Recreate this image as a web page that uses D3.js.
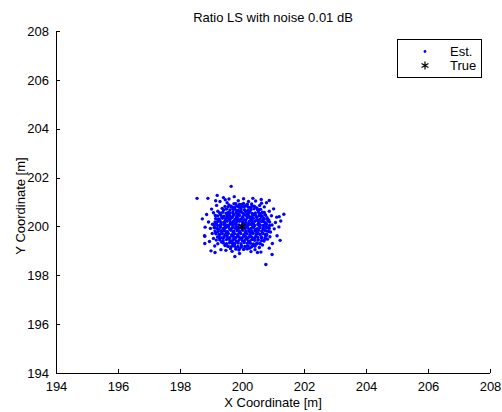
<!DOCTYPE html>
<html>
<head>
<meta charset="utf-8">
<script src="https://cdn.jsdelivr.net/npm/d3@7"></script>
<style>
  body { margin: 0; background: #fff; }
  text { font-family: "Liberation Sans", Arial, sans-serif; }
</style>
</head>
<body>
<div id="chart"></div>
<script>
// chart texts and ticks
var title = "Ratio LS with noise 0.01 dB";
var xLabel = "X Coordinate [m]";
var yLabel = "Y Coordinate [m]";
var xTicks = [194, 196, 198, 200, 202, 204, 206, 208];
var yTicks = [194, 196, 198, 200, 202, 204, 206, 208];
var legendNames = ["Est.", "True"];

// true position
var truePos = [[200, 200]];

// estimated positions [x, y]
var estCore = [
  [199.78,200.70],[199.88,200.66],[199.97,200.71],[200.08,200.68],[200.19,200.65],
  [199.62,200.55],[199.71,200.59],[199.82,200.54],[199.93,200.58],[200.02,200.55],[200.12,200.60],[200.23,200.56],[200.33,200.53],
  [199.52,200.45],[199.62,200.41],[199.73,200.46],[199.83,200.43],[199.92,200.45],[200.03,200.40],[200.13,200.46],[200.22,200.44],[200.33,200.41],[200.44,200.45],
  [199.47,200.33],[199.57,200.30],[199.66,200.34],[199.77,200.29],[199.87,200.33],[199.98,200.31],[200.07,200.28],[200.17,200.34],[200.28,200.30],[200.37,200.33],[200.48,200.29],
  [199.43,200.18],[199.52,200.21],[199.63,200.16],[199.72,200.20],[199.83,200.18],[199.92,200.21],[200.02,200.19],[200.12,200.16],[200.23,200.20],[200.32,200.18],[200.42,200.21],[200.53,200.19],
  [199.41,200.08],[199.51,200.05],[199.61,200.09],[199.70,200.04],[199.81,200.08],[199.90,200.06],[200.00,200.05],[200.10,200.09],[200.20,200.05],[200.30,200.08],[200.41,200.04],[200.51,200.08],[200.59,200.05],
  [199.40,199.92],[199.49,199.96],[199.60,199.91],[199.69,199.95],[199.79,199.92],[199.88,199.96],[199.98,199.94],[200.08,199.91],[200.18,199.95],[200.29,199.92],[200.38,199.96],[200.49,199.91],[200.58,199.95],
  [199.43,199.82],[199.53,199.79],[199.64,199.84],[199.73,199.80],[199.84,199.82],[199.93,199.79],[200.03,199.84],[200.14,199.81],[200.24,199.79],[200.33,199.82],[200.44,199.80],[200.54,199.84],
  [199.46,199.67],[199.56,199.71],[199.67,199.66],[199.76,199.70],[199.86,199.67],[199.96,199.71],[200.06,199.66],[200.16,199.70],[200.26,199.67],[200.36,199.71],[200.47,199.69],
  [199.52,199.57],[199.61,199.54],[199.72,199.59],[199.81,199.55],[199.91,199.57],[200.01,199.54],[200.11,199.59],[200.21,199.55],[200.31,199.57],[200.41,199.54],
  [199.61,199.42],[199.71,199.46],[199.81,199.41],[199.91,199.45],[200.01,199.42],[200.11,199.46],[200.21,199.41],[200.31,199.45],
  [199.77,199.30],[199.87,199.32],[199.97,199.29],[200.07,199.34],[200.17,199.31]
];
var estFill = [
  [199.83,200.62],[199.97,200.63],[200.13,200.61],[200.26,200.63],
  [199.58,200.50],[199.72,200.51],[199.88,200.49],[200.07,200.50],[200.18,200.52],[200.38,200.49],
  [199.53,200.38],[199.69,200.39],[199.82,200.37],[200.02,200.38],[200.17,200.39],[200.27,200.37],[200.48,200.38],
  [199.47,200.25],[199.61,200.26],[199.83,200.24],[199.93,200.25],[200.12,200.26],[200.32,200.24],[200.52,200.25],
  [199.44,200.12],[199.67,200.13],[199.77,200.11],[200.07,200.12],[200.22,200.13],[200.37,200.11],[200.55,200.12],
  [199.46,200.00],[199.56,200.01],[199.80,199.99],[200.04,200.00],[200.14,200.01],[200.35,199.99],[200.56,200.00],
  [199.43,199.88],[199.64,199.87],[199.87,199.88],[200.02,199.87],[200.23,199.88],[200.43,199.87],
  [199.50,199.75],[199.72,199.76],[199.92,199.74],[200.11,199.75],[200.31,199.76],[200.51,199.74],
  [199.52,199.62],[199.67,199.63],[199.86,199.61],[200.06,199.62],[200.26,199.63],[200.45,199.62],
  [199.57,199.50],[199.76,199.49],[199.96,199.51],[200.16,199.50],[200.36,199.49],
  [199.68,199.38],[199.87,199.37],[200.06,199.39],[200.24,199.38]
];
var estRing = [
  [199.80,200.93],[199.92,200.90],[200.05,200.94],[200.17,200.91],
  [199.55,200.80],[199.65,200.83],[199.76,200.79],[199.87,200.82],[199.98,200.80],[200.09,200.83],[200.20,200.79],[200.31,200.82],[200.42,200.80],
  [199.40,200.68],[199.50,200.71],[199.61,200.67],[199.71,200.70],[200.29,200.69],[200.39,200.72],[200.50,200.68],[200.60,200.70],
  [199.28,200.55],[199.38,200.58],[199.49,200.54],[199.56,200.57],[200.43,200.55],[200.53,200.58],[200.63,200.54],[200.72,200.57],
  [199.21,200.43],[199.32,200.46],[199.42,200.42],[200.55,200.45],[200.65,200.42],[200.76,200.46],
  [199.15,200.32],[199.26,200.29],[199.37,200.33],[200.59,200.30],[200.70,200.33],[200.81,200.29],
  [199.13,200.18],[199.23,200.21],[199.33,200.17],[200.63,200.20],[200.74,200.17],[200.85,200.21],
  [199.11,200.07],[199.21,200.04],[199.31,200.08],[200.69,200.05],[200.79,200.08],[200.89,200.04],
  [199.10,199.95],[199.20,199.92],[199.30,199.96],[200.68,199.93],[200.78,199.96],[200.88,199.92],
  [199.13,199.82],[199.23,199.79],[199.33,199.83],[200.64,199.80],[200.75,199.83],[200.86,199.79],
  [199.16,199.70],[199.26,199.67],[199.36,199.71],[200.57,199.68],[200.68,199.71],[200.80,199.67],
  [199.21,199.57],[199.32,199.54],[199.42,199.58],[200.51,199.55],[200.62,199.58],[200.74,199.54],
  [199.28,199.45],[199.39,199.42],[199.50,199.46],[200.41,199.43],[200.52,199.46],[200.63,199.42],[200.72,199.45],
  [199.40,199.32],[199.50,199.29],[199.60,199.33],[199.69,199.30],[200.27,199.31],[200.37,199.28],[200.48,199.32],[200.58,199.29],
  [199.55,199.19],[199.65,199.17],[199.76,199.20],[199.87,199.18],[199.98,199.21],[200.09,199.18],[200.20,199.20],[200.31,199.17],[200.42,199.19],
  [199.80,199.07],[199.92,199.09],[200.05,199.06],[200.17,199.08]
];
var estMid = [
  [199.45,200.82],[199.58,200.88],[199.66,200.79],[199.74,200.93],[199.83,200.84],[199.91,200.78],[199.99,200.90],[200.06,200.81],[200.15,200.87],[200.24,200.78],
  [200.31,200.92],[200.39,200.83],[200.48,200.76],[200.57,200.86],[200.63,200.95],[199.36,200.74],[199.52,200.97],[200.21,201.02],[199.88,201.05],[200.72,200.80],
  [199.22,200.62],[199.30,200.51],[199.14,200.45],[199.35,200.38],[199.25,200.31],[199.08,200.56],[199.41,200.67],[200.55,200.68],
  [200.66,200.58],[200.74,200.49],[200.62,200.41],[200.81,200.36],[200.70,200.29],[200.88,200.62],[200.58,200.52],[200.95,200.44],
  [199.28,200.22],[199.18,200.14],[199.05,200.09],[199.31,200.03],[199.12,199.96],[199.24,199.88],[198.98,199.92],
  [199.33,199.79],[199.15,199.74],[199.27,199.66],[199.04,199.71],[199.22,200.27],[199.36,199.70],[198.92,200.18],
  [200.68,200.21],[200.77,200.13],[200.89,200.18],[200.71,200.02],[200.83,199.95],[200.97,200.06],[200.69,199.88],
  [200.79,199.81],[200.92,199.77],[200.66,199.72],[200.75,199.66],[201.04,199.90],[200.86,200.27],[201.08,200.16],
  [199.26,199.55],[199.17,199.44],[199.34,199.36],[199.08,199.51],[199.22,199.29],[199.45,199.22],[199.39,199.52],[200.52,199.44],
  [200.63,199.53],[200.58,199.31],[200.71,199.40],[200.82,199.48],[200.66,199.24],[200.47,199.28],[200.90,199.58],[200.78,199.61],
  [199.55,199.18],[199.63,199.09],[199.72,199.21],[199.81,199.12],[199.90,199.03],[199.98,199.16],[200.07,199.08],[200.16,199.19],
  [200.25,199.11],[200.34,199.22],[200.42,199.05],[199.48,199.02],[200.56,199.14],[199.68,198.98],[200.29,198.97]
];
var estOuter = [
  [198.72,200.31],[198.81,199.97],[198.86,200.49],[198.79,199.62],[198.95,199.38],[199.02,200.71],[199.18,200.86],[199.29,201.02],
  [199.46,201.09],[200.05,201.13],[200.44,201.04],[200.79,200.97],[201.02,200.72],[201.12,200.38],[201.19,199.98],[201.13,199.62],
  [200.98,199.30],[200.88,199.11],[200.61,198.95],[199.92,198.89],[199.32,199.05],[199.12,199.20],[201.25,200.22],
  [199.15,201.05],[199.40,201.18],[199.58,201.12],[199.75,201.22],[200.35,201.15],[200.62,201.10],[200.88,201.06],
  [199.65,201.64],[198.55,201.15],[198.90,201.15],[199.20,201.27],[201.35,200.50],[201.20,200.40],[200.77,198.44],
  [198.80,199.60],[198.80,199.30],[199.00,199.00],[199.13,198.93],[201.23,199.43],[200.97,198.85],[199.77,198.77],[200.50,198.93]
];
var estPos = estCore.concat(estFill, estRing, estMid, estOuter);

// set the dimensions and margins of the graph
var margin = {top: 31, right: 12, bottom: 39, left: 56},
    width = 502 - margin.left - margin.right,
    height = 412 - margin.top - margin.bottom;

var x = d3.scaleLinear().domain([194, 208]).range([0, width]);
var y = d3.scaleLinear().domain([194, 208]).range([height, 0]);

var svg = d3.select("#chart").append("svg")
    .attr("width", 502)
    .attr("height", 412)
  .append("g")
    .attr("transform", "translate(" + margin.left + "," + margin.top + ")");

// estimated points
svg.selectAll(".est")
    .data(estPos)
  .enter().append("circle")
    .attr("class", "est")
    .attr("cx", function(d) { return x(d[0]); })
    .attr("cy", function(d) { return y(d[1]); })
    .attr("r", 1.7)
    .attr("fill", "#0000ff");

// true point
var star = d3.symbol().type(d3.symbolAsterisk).size(44);
svg.selectAll(".true")
    .data(truePos)
  .enter().append("path")
    .attr("class", "true")
    .attr("d", star)
    .attr("transform", function(d) { return "translate(" + x(d[0]) + "," + y(d[1]) + ")"; })
    .attr("fill", "none")
    .attr("stroke", "#000")
    .attr("stroke-width", 1.4);

// x axis, ticks pointing inward
var xAxis = svg.append("g")
    .attr("transform", "translate(0," + height + ")")
    .call(d3.axisBottom(x).tickValues(xTicks).tickSize(-4).tickPadding(9).tickFormat(d3.format("d")));

// y axis
var yAxis = svg.append("g")
    .call(d3.axisLeft(y).tickValues(yTicks).tickSize(-4).tickPadding(7).tickFormat(d3.format("d")));

[xAxis, yAxis].forEach(function(a) {
  a.selectAll("path, line").attr("stroke", "#000").attr("shape-rendering", "crispEdges");
  a.select(".domain").attr("d", a === xAxis ? "M0,0H" + width : "M0,0V" + height);
  a.selectAll("text").attr("font-size", 13).attr("fill", "#000")
    .attr("font-family", "'Liberation Sans', Arial, sans-serif");
});

// title and labels
svg.append("text")
    .attr("x", width / 2)
    .attr("y", -9)
    .attr("text-anchor", "middle")
    .attr("font-size", 13)
    .text(title);

svg.append("text")
    .attr("x", width / 2)
    .attr("y", height + 34)
    .attr("text-anchor", "middle")
    .attr("font-size", 13)
    .text(xLabel);

svg.append("text")
    .attr("transform", "rotate(-90)")
    .attr("x", -(height / 2) - 4)
    .attr("y", -31)
    .attr("text-anchor", "middle")
    .attr("font-size", 13)
    .text(yLabel);

// legend
var legend = svg.append("g").attr("transform", "translate(" + (397 - margin.left) + "," + (39 - margin.top) + ")");
legend.append("rect")
    .attr("x", 0.5).attr("y", 0.5)
    .attr("width", 84).attr("height", 38)
    .attr("fill", "#fff")
    .attr("stroke", "#000")
    .attr("shape-rendering", "crispEdges");

legend.append("circle")
    .attr("cx", 28).attr("cy", 12.5)
    .attr("r", 1.4)
    .attr("fill", "#0000ff");
legend.append("path")
    .attr("d", star)
    .attr("transform", "translate(28,26.5)")
    .attr("fill", "none")
    .attr("stroke", "#000")
    .attr("stroke-width", 1.2);

legend.selectAll(".lbl")
    .data(legendNames)
  .enter().append("text")
    .attr("class", "lbl")
    .attr("x", 53)
    .attr("y", function(d, i) { return 12.5 + i * 14; })
    .attr("dy", "0.35em")
    .attr("font-size", 13)
    .text(function(d) { return d; });
</script>
</body>
</html>
